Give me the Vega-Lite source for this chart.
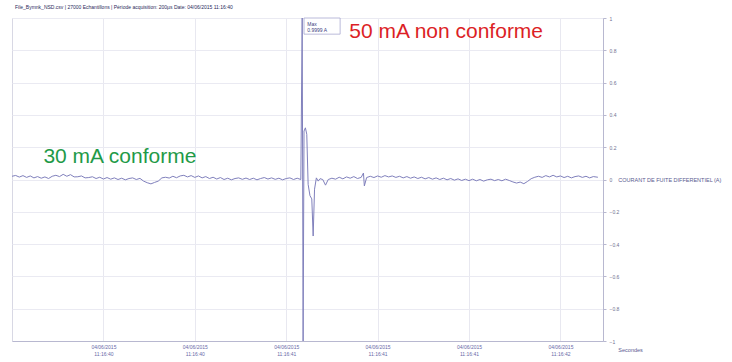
{
  "$schema": "https://vega.github.io/schema/vega-lite/v6.json",
  "width": 591,
  "height": 323,
  "autosize": {"type": "none"},
  "padding": {"left": 12, "top": 18, "right": 129, "bottom": 21},
  "background": "white",
  "config": {
    "font": "Liberation Sans",
    "view": {"stroke": "#d8d8e4", "strokeWidth": 1}
  },
  "title": {
    "text": "File_Bymnk_NSD.csv | 27000 Echantillons | Période acquisition: 200µs Date: 04/06/2015 11:16:40",
    "anchor": "start",
    "frame": "group",
    "fontSize": 5,
    "fontWeight": "normal",
    "color": "#2a2a5a",
    "offset": 6,
    "dx": 3
  },
  "datasets": {
    "signal": [
      {"t":0.00,"v":0.02},{"t":0.04,"v":0.025},{"t":0.08,"v":0.015},{"t":0.12,"v":0.024},{"t":0.16,"v":0.013},{"t":0.20,"v":0.022},{"t":0.24,"v":0.01},{"t":0.28,"v":0.018},{"t":0.32,"v":0.008},{"t":0.36,"v":0.016},
      {"t":0.40,"v":0.006},{"t":0.44,"v":0.02},{"t":0.48,"v":0.026},{"t":0.52,"v":0.018},{"t":0.56,"v":0.032},{"t":0.60,"v":0.02},{"t":0.64,"v":0.03},{"t":0.68,"v":0.016},{"t":0.72,"v":0.017},{"t":0.76,"v":0.022},
      {"t":0.80,"v":0.01},{"t":0.84,"v":0.012},{"t":0.88,"v":0.017},{"t":0.92,"v":0.006},{"t":0.96,"v":0.014},{"t":1.00,"v":0.003},{"t":1.04,"v":0.012},{"t":1.08,"v":0.002},{"t":1.12,"v":0.01},{"t":1.16,"v":0.0},
      {"t":1.20,"v":0.008},{"t":1.24,"v":-0.002},{"t":1.28,"v":0.006},{"t":1.32,"v":0.01},{"t":1.36,"v":0.0},{"t":1.40,"v":0.007},{"t":1.44,"v":-0.01},{"t":1.48,"v":-0.02},{"t":1.52,"v":-0.027},{"t":1.56,"v":-0.018},
      {"t":1.60,"v":-0.01},{"t":1.64,"v":0.01},{"t":1.68,"v":0.014},{"t":1.72,"v":0.009},{"t":1.76,"v":0.02},{"t":1.80,"v":0.011},{"t":1.84,"v":0.022},{"t":1.88,"v":0.026},{"t":1.92,"v":0.016},{"t":1.96,"v":0.024},
      {"t":2.00,"v":0.013},{"t":2.04,"v":0.022},{"t":2.08,"v":0.01},{"t":2.12,"v":0.018},{"t":2.16,"v":0.006},{"t":2.20,"v":0.014},{"t":2.24,"v":0.003},{"t":2.28,"v":0.012},{"t":2.32,"v":0.0},{"t":2.36,"v":0.008},
      {"t":2.40,"v":-0.002},{"t":2.44,"v":0.006},{"t":2.48,"v":0.01},{"t":2.52,"v":0.001},{"t":2.56,"v":0.009},{"t":2.60,"v":0.0},{"t":2.64,"v":0.008},{"t":2.68,"v":-0.002},{"t":2.72,"v":0.006},{"t":2.76,"v":0.012},
      {"t":2.80,"v":0.003},{"t":2.84,"v":0.01},{"t":2.88,"v":0.001},{"t":2.92,"v":0.008},{"t":2.96,"v":-0.002},{"t":3.00,"v":0.006},{"t":3.04,"v":0.01},{"t":3.08,"v":0.0},{"t":3.12,"v":0.008},{"t":3.16,"v":0.0},
      {"t":3.175,"v":1.0},{"t":3.185,"v":-1.0},{"t":3.195,"v":0.3},{"t":3.21,"v":0.32},{"t":3.225,"v":0.28},{"t":3.24,"v":-0.03},{"t":3.26,"v":-0.1},{"t":3.28,"v":-0.12},{"t":3.295,"v":-0.35},{"t":3.31,"v":-0.06},
      {"t":3.33,"v":0.01},{"t":3.35,"v":-0.01},{"t":3.37,"v":0.005},{"t":3.40,"v":0.0},{"t":3.43,"v":-0.035},{"t":3.46,"v":0.0},{"t":3.50,"v":0.008},{"t":3.54,"v":0.002},{"t":3.58,"v":0.014},{"t":3.62,"v":0.004},
      {"t":3.66,"v":0.016},{"t":3.70,"v":0.008},{"t":3.74,"v":0.018},{"t":3.78,"v":0.006},{"t":3.82,"v":0.013},{"t":3.845,"v":0.04},{"t":3.855,"v":-0.04},{"t":3.88,"v":0.012},{"t":3.92,"v":0.02},{"t":3.96,"v":0.012},
      {"t":4.00,"v":0.022},{"t":4.04,"v":0.014},{"t":4.08,"v":0.024},{"t":4.12,"v":0.016},{"t":4.16,"v":0.022},{"t":4.20,"v":0.013},{"t":4.24,"v":0.02},{"t":4.28,"v":0.01},{"t":4.32,"v":0.018},{"t":4.36,"v":0.008},
      {"t":4.40,"v":0.016},{"t":4.44,"v":0.006},{"t":4.48,"v":0.014},{"t":4.52,"v":0.004},{"t":4.56,"v":0.012},{"t":4.60,"v":0.002},{"t":4.64,"v":0.01},{"t":4.68,"v":0.0},{"t":4.72,"v":0.008},{"t":4.76,"v":-0.002},
      {"t":4.80,"v":0.006},{"t":4.84,"v":-0.004},{"t":4.88,"v":0.004},{"t":4.92,"v":-0.006},{"t":4.96,"v":0.002},{"t":5.00,"v":-0.007},{"t":5.04,"v":0.002},{"t":5.08,"v":-0.008},{"t":5.12,"v":0.0},{"t":5.16,"v":-0.01},
      {"t":5.20,"v":-0.002},{"t":5.24,"v":0.002},{"t":5.28,"v":-0.007},{"t":5.32,"v":0.0},{"t":5.36,"v":-0.008},{"t":5.40,"v":0.002},{"t":5.44,"v":-0.006},{"t":5.48,"v":-0.015},{"t":5.52,"v":-0.022},{"t":5.56,"v":-0.016},
      {"t":5.60,"v":-0.026},{"t":5.64,"v":-0.012},{"t":5.68,"v":0.005},{"t":5.72,"v":0.014},{"t":5.76,"v":0.02},{"t":5.80,"v":0.013},{"t":5.84,"v":0.024},{"t":5.88,"v":0.016},{"t":5.92,"v":0.026},{"t":5.96,"v":0.016},
      {"t":6.00,"v":0.022},{"t":6.04,"v":0.012},{"t":6.08,"v":0.02},{"t":6.12,"v":0.01},{"t":6.16,"v":0.018},{"t":6.20,"v":0.022},{"t":6.24,"v":0.013},{"t":6.28,"v":0.02},{"t":6.32,"v":0.01},{"t":6.36,"v":0.018},{"t":6.41,"v":0.014}
    ],
    "notes": [
      {"t":4.75,"v":0.913,"label":"50 mA non conforme","kind":"bad"},
      {"t":1.18,"v":0.139,"label":"30 mA conforme","kind":"good"}
    ],
    "legendText": [
      {"t":6.47,"v":0.0,"label":"COURANT DE FUITE DIFFERENTIEL (A)"}
    ],
    "unitText": [
      {"t":6.47,"v":-1.0,"label":"Secondes"}
    ],
    "box": [
      {"t1":3.195,"t2":3.59,"v1":1.0,"v2":0.9}
    ],
    "boxtext": [
      {"t":3.23,"v":0.965,"label":"Max"},
      {"t":3.23,"v":0.925,"label":"0.9999 A"}
    ]
  },
  "layer": [
    {
      "data": {"name": "signal"},
      "mark": {"type": "line", "color": "#8080bc", "strokeWidth": 1, "clip": false},
      "encoding": {
        "x": {
          "field": "t", "type": "quantitative",
          "scale": {"domain": [0, 6.466], "nice": false, "zero": false},
          "axis": {
            "title": null,
            "values": [1, 2, 3, 4, 5, 6],
            "tickCount": 6,
            "labelExpr": "['04/06/2015', ['', '11:16:40', '11:16:40', '11:16:41', '11:16:41', '11:16:41', '11:16:42'][datum.value]]",
            "labelFontSize": 5,
            "labelColor": "#6a6aa8",
            "labelPadding": 3,
            "labelLineHeight": 7,
            "grid": true,
            "gridColor": "#e8e8f0",
            "domainColor": "#b8b8d0",
            "tickSize": 0
          }
        },
        "y": {
          "field": "v", "type": "quantitative",
          "scale": {"domain": [-1, 1], "nice": false},
          "axis": {
            "orient": "right",
            "title": null,
            "values": [-1, -0.8, -0.6, -0.4, -0.2, 0, 0.2, 0.4, 0.6, 0.8, 1],
            "tickCount": 11,
            "labelExpr": "datum.value === 0 ? '0' : format(datum.value, '.1~f')",
            "labelOverlap": false,
            "labelBound": false,
            "labelFlush": false,
            "labelFontSize": 5,
            "labelColor": "#707090",
            "labelPadding": 3,
            "grid": true,
            "gridColor": "#eaeaf2",
            "domainColor": "#b8b8d0",
            "tickColor": "#b8b8d0",
            "tickSize": 3
          }
        }
      }
    },
    {
      "data": {"name": "box"},
      "mark": {"type": "rect", "fill": "white", "stroke": "#a8a8d0", "strokeWidth": 0.8},
      "encoding": {
        "x": {"field": "t1", "type": "quantitative"},
        "x2": {"field": "t2"},
        "y": {"field": "v1", "type": "quantitative"},
        "y2": {"field": "v2"}
      }
    },
    {
      "data": {"name": "boxtext"},
      "mark": {"type": "text", "align": "left", "baseline": "middle", "fontSize": 5, "color": "#404080"},
      "encoding": {
        "x": {"field": "t", "type": "quantitative"},
        "y": {"field": "v", "type": "quantitative"},
        "text": {"field": "label"}
      }
    },
    {
      "data": {"name": "notes"},
      "mark": {"type": "text", "align": "center", "baseline": "middle", "fontSize": 21},
      "encoding": {
        "x": {"field": "t", "type": "quantitative"},
        "y": {"field": "v", "type": "quantitative"},
        "text": {"field": "label"},
        "color": {
          "field": "kind", "type": "nominal",
          "scale": {"domain": ["bad", "good"], "range": ["#dc1f26", "#1f9a48"]},
          "legend": null
        }
      }
    },
    {
      "data": {"name": "legendText"},
      "mark": {"type": "text", "align": "left", "baseline": "middle", "fontSize": 5.5, "color": "#5a5a90", "dx": 15, "clip": false},
      "encoding": {
        "x": {"field": "t", "type": "quantitative"},
        "y": {"field": "v", "type": "quantitative"},
        "text": {"field": "label"}
      }
    },
    {
      "data": {"name": "unitText"},
      "mark": {"type": "text", "align": "left", "baseline": "middle", "fontSize": 5.5, "color": "#5a5a90", "dx": 15, "dy": 9, "clip": false},
      "encoding": {
        "x": {"field": "t", "type": "quantitative"},
        "y": {"field": "v", "type": "quantitative"},
        "text": {"field": "label"}
      }
    }
  ]
}
